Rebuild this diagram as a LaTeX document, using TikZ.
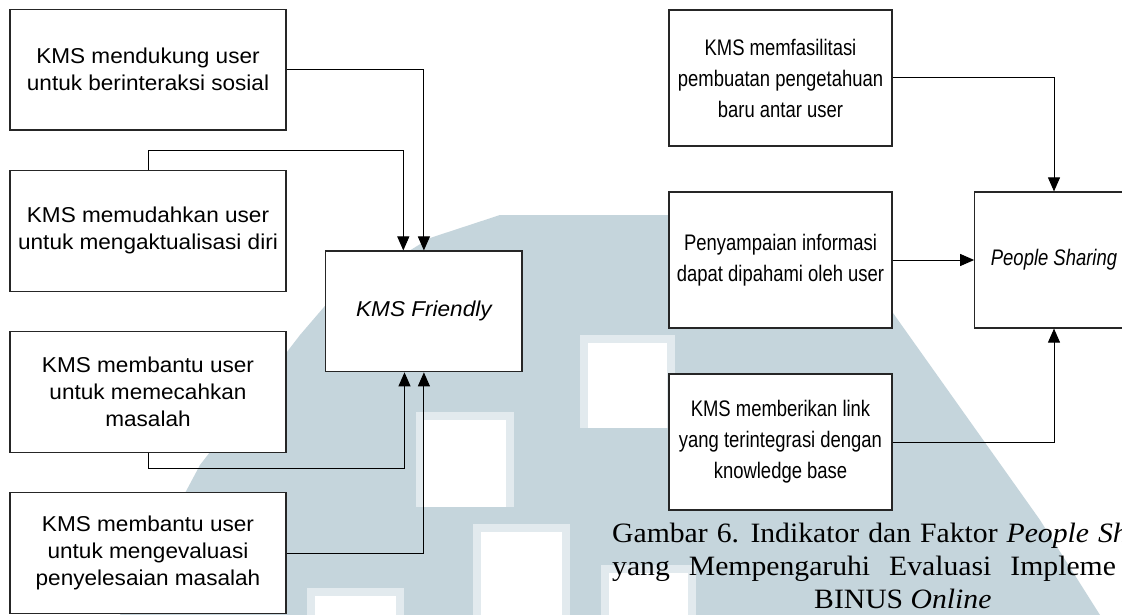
\documentclass[tikz,border=0pt]{standalone}
\usepackage{fontspec}
\setmainfont{Liberation Sans}
\newfontfamily\lfont[FakeStretch=1.05]{Liberation Sans}
\newfontfamily\rfont[FakeStretch=0.82]{Liberation Sans}
\newfontfamily\cfont[FakeStretch=1.06]{Liberation Serif}
\usetikzlibrary{arrows.meta}
\definecolor{wm}{RGB}{197,213,220}
\definecolor{wml}{RGB}{226,234,238}
\tikzset{
  lbox/.style={draw=black!85, line width=1.2pt, fill=white, minimum width=276pt,
    minimum height=120.5pt, inner sep=0pt, align=center,
    font=\lfont\fontsize{21.5}{27}\selectfont},
  rbox/.style={draw=black!85, line width=1.2pt, fill=white, minimum width=223pt,
    minimum height=136pt, inner sep=0pt, align=center,
    font=\rfont\fontsize{22.5}{31}\selectfont},
  conn/.style={draw=black, line width=1pt, -{Triangle[length=14pt,width=12pt]}},
  capt/.style={inner sep=0pt, font=\cfont\fontsize{28}{33}\selectfont},
  wsq/.style={fill=wml},
  wsqin/.style={fill=white}
}
\begin{document}
\begin{tikzpicture}[x=1pt,y=-1pt]
\useasboundingbox (0,0) rectangle (1122,615);
\fill[white] (0,0) rectangle (1122,615);
% watermark
\fill[wm] (120,615) -- (200,465) -- (300,335) -- (330,300) -- (430,238) -- (500,215)
  -- (880,215) -- (893,313) -- (1040,520) -- (1100,615) -- cycle;
\foreach \a/\b/\c/\d in {416/412/514/507, 580/335/675/428, 473/524/570/615, 307/588/404/615, 601/565/696/615}{
  \fill[wsq] (\a,\b) rectangle (\c,\d);
  \fill[wsqin] (\a+8,\b+8) rectangle (\c-8,\d);
}
% left group
\node[lbox] (l1) at (148,69.7) {KMS mendukung user\\untuk berinteraksi sosial};
\node[lbox] (l2) at (148,230.9) {KMS memudahkan user\\untuk mengaktualisasi diri};
\node[lbox] (l3) at (148,392) {KMS membantu user\\untuk memecahkan\\masalah};
\node[lbox] (l4) at (148,553) {KMS membantu user\\untuk mengevaluasi\\penyelesaian masalah};
\node[lbox, minimum width=196.3pt, minimum height=120.7pt, font=\lfont\itshape\fontsize{21.5}{27}\selectfont] (fr) at (423.9,311.4) {KMS Friendly};
\coordinate (c2) at (403.3,151);
\coordinate (c3) at (404.5,468.3);
\draw[conn] (l1.east) -| (fr.north);
\draw[conn] (l2.north) |- (c2) -- (c2 |- fr.north);
\draw[conn] (l3.south) |- (c3) -- (c3 |- fr.south);
\draw[conn] (l4.east) -| (fr.south);
% right group
\node[rbox] (r1) at (780.5,78) {KMS memfasilitasi\\pembuatan pengetahuan\\baru antar user};
\node[rbox] (r2) at (780.5,260) {Penyampaian informasi\\dapat dipahami oleh user};
\node[rbox] (r3) at (780.5,442) {KMS memberikan link\\yang terintegrasi dengan\\knowledge base};
\node[rbox, minimum width=158.5pt, font=\rfont\itshape\fontsize{22.5}{31}\selectfont] (ps) at (1054,260) {People Sharing};
\draw[conn] (r1.east) -| (ps.north);
\draw[conn] (r2.east) -- (ps.west);
\draw[conn] (r3.east) -| (ps.south);
% caption
\begin{scope}
\clip (0,0) rectangle (1122,615);
\node[capt, anchor=base west] (cap1) at (612,542) {{\spaceskip=9pt Gambar 6. Indikator dan Faktor \textit{People Sh}}};
\node[capt, anchor=base west] (cap2) at (612,575) {{\spaceskip=19pt yang Mempengaruhi Evaluasi Impleme}};
\node[capt, anchor=base west] (cap3) at (814,608) {BINUS \textit{Online}};
\end{scope}
\end{tikzpicture}
\end{document}
